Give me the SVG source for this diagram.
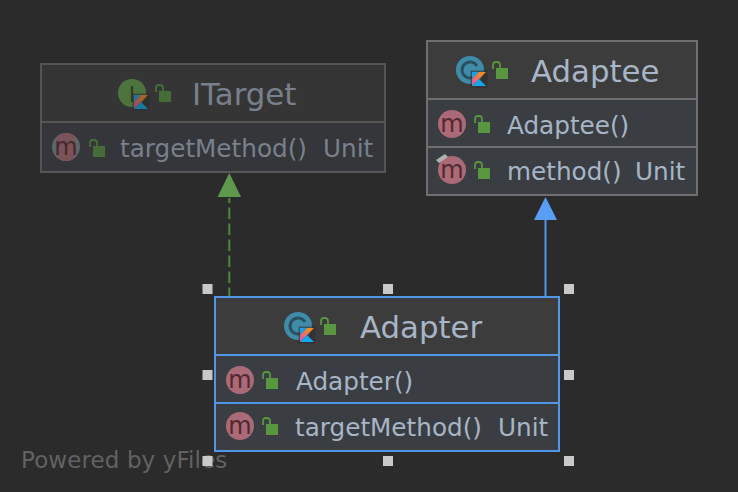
<svg xmlns="http://www.w3.org/2000/svg" width="738" height="492" viewBox="0 0 738 492">
<style>
text{font-family:"DejaVu Sans","Liberation Sans",sans-serif}
.head{fill:#3c3c3c}
.row{fill:#3a3e42}
.box{fill:none;stroke:#6f6f6f;stroke-width:2}
.sel{stroke:#5296ea}
.title{font-size:30.800px;fill:#a8b5c6}
.mem{font-size:24.700px;fill:#a8b5c6}
.mbg{fill:#ab6a78}
.mlet{font-size:24px;fill:#54282f;text-anchor:middle}
.lock{fill:#58963f}
.arc{fill:none;stroke:#58963f;stroke-width:1.800}
.h{fill:#c9c9c9}
.dim{opacity:.62}
</style>
<defs>
<linearGradient id="kband" x1="1" y1="0" x2="0" y2="1"><stop offset=".25" stop-color="#f58a1f"/><stop offset=".8" stop-color="#e0609a"/></linearGradient>
<g id="lock"><rect x="4" y="6" width="12" height="11" class="lock"/><path d="M1 7V3Q1 0 4 0H5Q8 0 8 3V6" class="arc"/></g>
<g id="m"><circle cx="14" cy="14" r="14" class="mbg"/><text x="14" y="22" class="mlet">m</text></g>
<g id="k"><rect x="-1.500" y="-1.500" width="17" height="17" fill="#2b2b2b" opacity=".55"/><path d="M0 0H7L0 7Z" fill="#1aa0ec"/><path d="M7 0H14L0 14V7Z" fill="url(#kband)"/><path d="M7 7L14 14H0Z" fill="#12a8f0"/></g>
<g id="c"><circle cx="14" cy="14" r="14" fill="#3f8ba8"/><path d="M21 10A8 8 0 1 0 21 18" fill="none" stroke="#2b4f5e" stroke-width="3"/></g>
</defs>
<rect width="738" height="492" fill="#2b2b2b"/>
<g id="connectors">
<path d="M229.300 296V198" fill="none" stroke="#4f8a3c" stroke-width="2" stroke-dasharray="11.500 4.500" stroke-dashoffset="3"/>
<path d="M229.300 173L241 197H217.600Z" fill="#5f9a4c"/>
<path d="M545.500 296V218" fill="none" stroke="#5296ea" stroke-width="2"/>
<path d="M545.500 197L557 220H534Z" fill="#589df6"/>
</g>
<g id="ITarget" class="dim">
<rect x="41" y="64" width="344" height="58" class="head"/>
<rect x="41" y="122" width="344" height="50" class="row"/>
<rect x="41" y="64" width="344" height="108" class="box"/>
<path d="M41 122H385" class="box"/>
<circle cx="132" cy="93" r="14" fill="#62a14b"/>
<text x="132" y="102" font-size="22" fill="#2b4a22" text-anchor="middle">I</text>
<use href="#k" x="134" y="95"/>
<use href="#lock" x="155" y="85"/>
<text x="192" y="105" class="title">ITarget</text>
<circle cx="66" cy="147" r="14" fill="#7b8a93"/>
<rect x="56.500" y="133" width="19" height="28" rx="8" class="mbg"/>
<text x="66" y="155" class="mlet">m</text>
<use href="#lock" x="89" y="140"/>
<text x="120" y="157" class="mem">targetMethod()</text>
<text x="323" y="157" class="mem">Unit</text>
</g>
<g id="Adaptee">
<rect x="427" y="41" width="270" height="58" class="head"/>
<rect x="427" y="99" width="270" height="96" class="row"/>
<rect x="427" y="41" width="270" height="154" class="box"/>
<path d="M427 99H697M427 147H697" class="box"/>
<use href="#c" x="456" y="56"/>
<use href="#k" x="472" y="72"/>
<use href="#lock" x="492" y="62"/>
<text x="531" y="82" class="title">Adaptee</text>
<use href="#m" x="438" y="110"/>
<use href="#lock" x="474" y="116"/>
<text x="507" y="134" class="mem">Adaptee()</text>
<use href="#m" x="438" y="156"/>
<path d="M436 160L445 154L448 157L439 163Z" fill="#afb1b3"/>
<use href="#lock" x="474" y="162"/>
<text x="507" y="180" class="mem">method()</text>
<text x="635" y="180" class="mem">Unit</text>
</g>
<g id="Adapter">
<rect x="215" y="297" width="344" height="58" class="head"/>
<rect x="215" y="355" width="344" height="96" class="row"/>
<rect x="215" y="297" width="344" height="154" class="box sel"/>
<path d="M215 355H559M215 403H559" class="box sel"/>
<use href="#c" x="284" y="312"/>
<use href="#k" x="300" y="328"/>
<use href="#lock" x="320" y="318"/>
<text x="360" y="338" class="title">Adapter</text>
<use href="#m" x="226" y="366"/>
<use href="#lock" x="262" y="372"/>
<text x="296" y="390" class="mem">Adapter()</text>
<use href="#m" x="226" y="412"/>
<use href="#lock" x="262" y="418"/>
<text x="295" y="436" class="mem">targetMethod()</text>
<text x="498" y="436" class="mem">Unit</text>
</g>
<text x="21" y="468" font-size="23" fill="#626262" letter-spacing=".1">Powered by yFiles</text>
<g id="handles">
<rect x="202.500" y="284" width="10" height="10" class="h"/>
<rect x="383" y="284" width="10" height="10" class="h"/>
<rect x="564" y="284" width="10" height="10" class="h"/>
<rect x="202.500" y="370" width="10" height="10" class="h"/>
<rect x="564" y="370" width="10" height="10" class="h"/>
<rect x="202.500" y="456" width="10" height="10" class="h"/>
<rect x="383" y="456" width="10" height="10" class="h"/>
<rect x="564" y="456" width="10" height="10" class="h"/>
</g>
</svg>
